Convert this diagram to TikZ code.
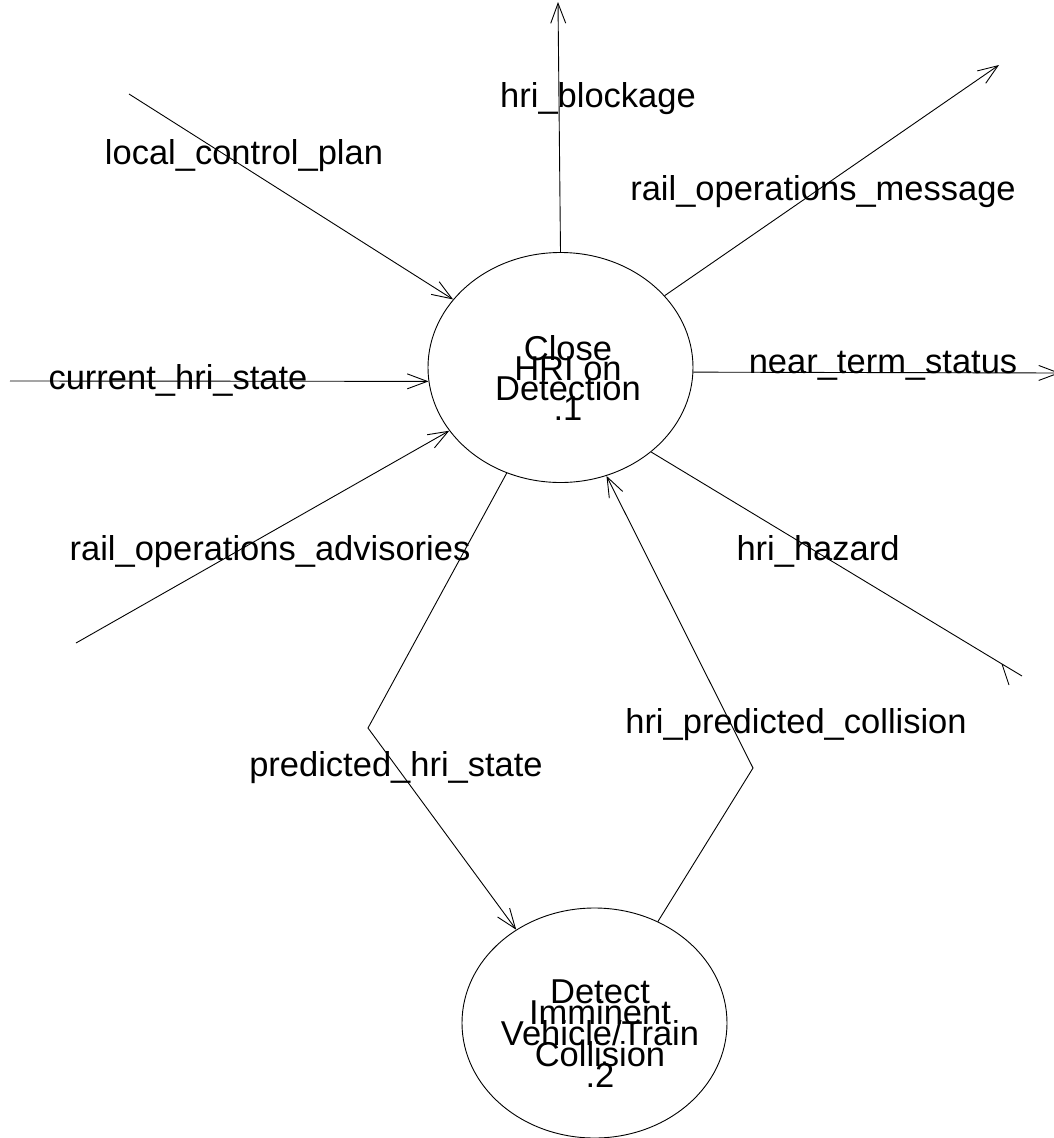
\documentclass[tikz,border=0pt]{standalone}
\usepackage{fontspec}
\setmainfont{Liberation Sans}
\usetikzlibrary{arrows.meta,shapes.geometric}
% tight line stacking inside the process bubbles
\newcommand\bubblefont[1]{\fontsize{34.5}{#1}\selectfont\lineskiplimit=-100pt\relax\lineskip=0pt\relax}
\begin{document}
\begin{tikzpicture}[x=1pt,y=-1pt,
  flowline/.style={draw=black, line width=0.9pt},
  flow/.style={flowline, -{Straight Barb[length=20pt,width=15pt]}},
  proc/.style={draw=black, line width=0.9pt, ellipse, inner sep=0pt,
    minimum width=265pt, minimum height=230pt},
  lbl/.style={font=\fontsize{34.5}{40}\selectfont, anchor=base, inner sep=0pt},
  ptext/.style={align=center, anchor=north, inner sep=0pt}]
  \useasboundingbox (0,0) rectangle (1053,1138);

  % processes
  \node[proc] (E1) at (560.5,367.5) {};
  \node[proc] (E2) at (594.5,1023) {};
  \node[ptext, font=\bubblefont{20}] (t1) at (568,335) {Close\\HRI on\\Detection\\.1};
  \node[ptext, font=\bubblefont{21}] (t2) at (600,980)
    {Detect\\Imminent\\Vehicle/Train\\Collision\\.2};

  % free ends of the flows
  \coordinate (lcp) at (129,94);
  \coordinate (chs) at (10,381);
  \coordinate (roa) at (76,643);
  \coordinate (blk) at (558,2);
  \coordinate (rom) at (999,65);
  \coordinate (nts) at (1060,373);
  \coordinate (haz) at (1002,664);
  \coordinate (phs) at (368,728);
  \coordinate (hpc) at (753,768);

  % flows
  \draw[flow] (lcp) -- (E1);
  \draw[flow] (chs) -- (E1.186);
  \draw[flow] (roa) -- (E1);
  \draw[flow] (E1.north) -- (blk);
  \draw[flow] (E1) -- (rom);
  \draw[flow] (E1.358) -- (nts);
  \draw[flowline] (E1.317) -- (haz);
  \draw[flowline] (haz) -- ++(20,12) (haz) -- ++(7,21);
  \draw[flow] (E1.243) -- (phs) -- (E2.130);
  \draw[flow] (E2.58) -- (hpc) -- (E1.293);

  % flow labels
  \node[lbl] (l1) at (598,107) {hri\_blockage};
  \node[lbl] (l2) at (244,164) {local\_control\_plan};
  \node[lbl] (l3) at (823,200) {rail\_operations\_message};
  \node[lbl] (l4) at (178,389) {current\_hri\_state};
  \node[lbl] (l5) at (883,373) {near\_term\_status};
  \node[lbl] (l6) at (270,560) {rail\_operations\_advisories};
  \node[lbl] (l7) at (818,560) {hri\_hazard};
  \node[lbl] (l8) at (796,733) {hri\_predicted\_collision};
  \node[lbl] (l9) at (396,776) {predicted\_hri\_state};
\end{tikzpicture}
\end{document}
